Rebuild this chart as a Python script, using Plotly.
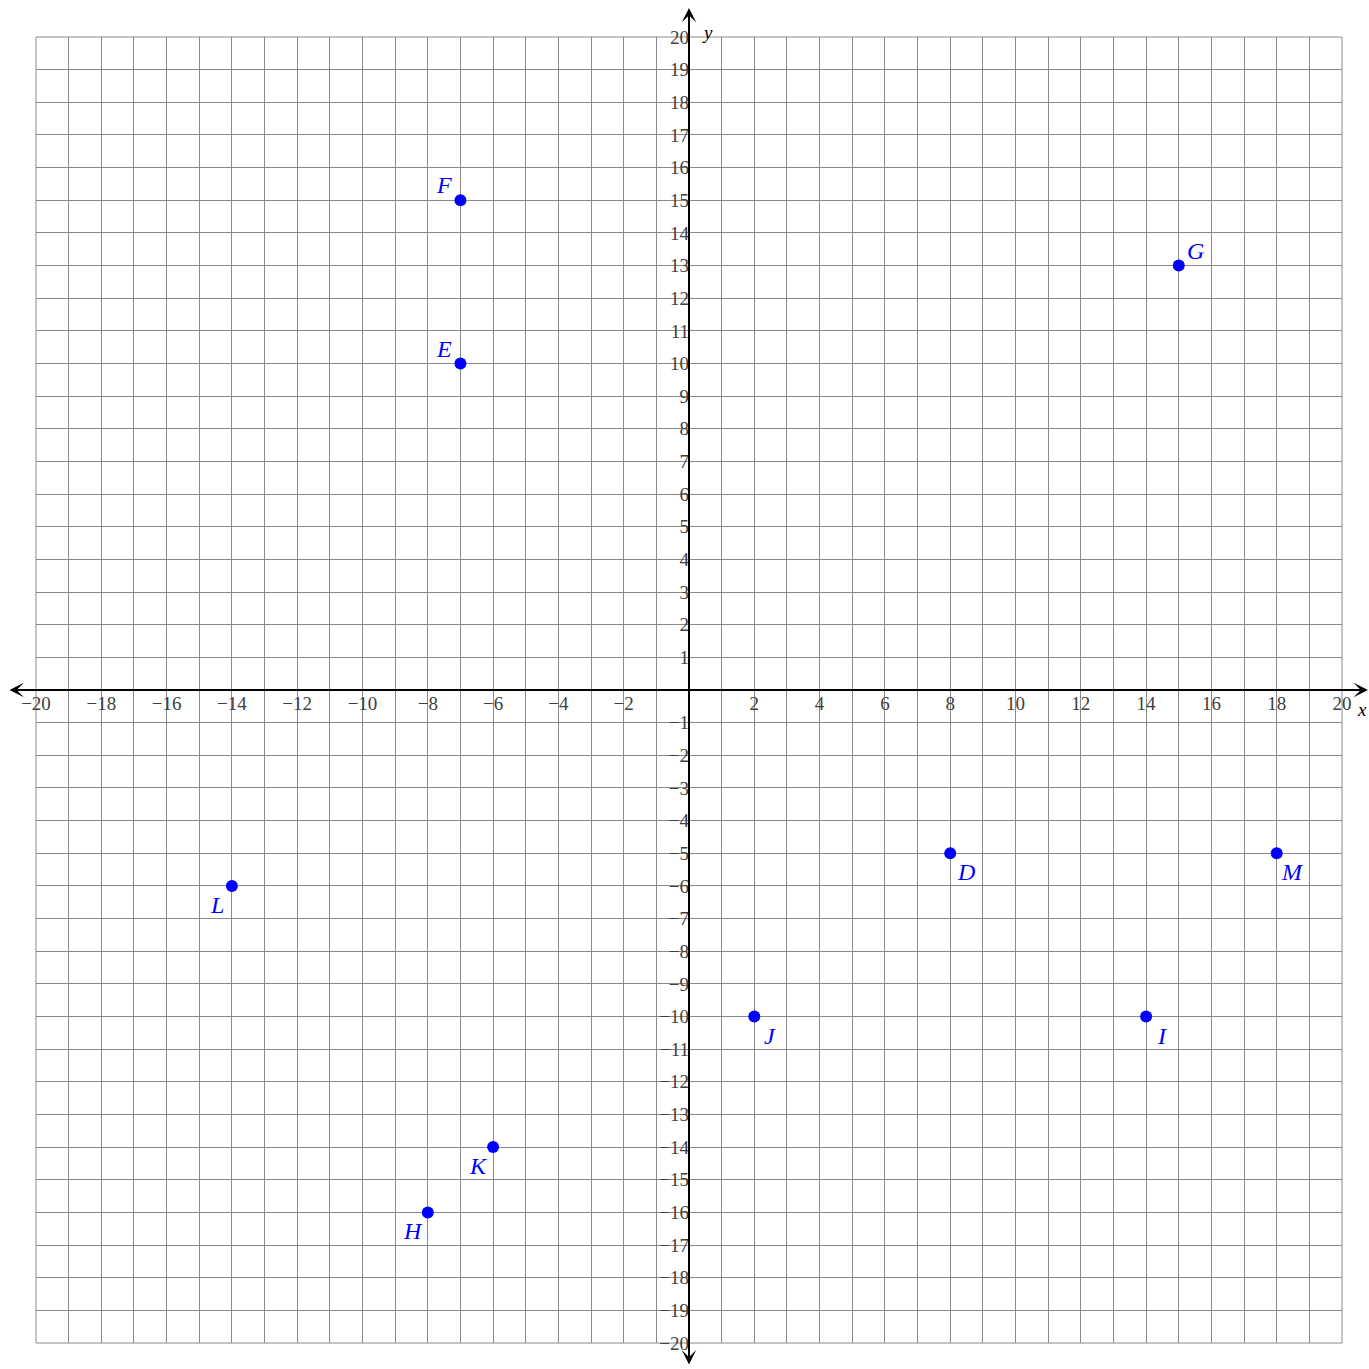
import plotly.graph_objects as go

# ---- data ----
point_labels = ["D", "E", "F", "G", "H", "I", "J", "K", "L", "M"]
point_x = [8, -7, -7, 15, -8, 14, 2, -6, -14, 18]
point_y = [-5, 10, 15, 13, -16, -10, -10, -14, -6, -5]

x_tick_vals = [-20, -18, -16, -14, -12, -10, -8, -6, -4, -2, 2, 4, 6, 8, 10, 12, 14, 16, 18, 20]
y_tick_vals = [v for v in range(-20, 21) if v != 0]

# ---- styling ----
label_side = {"D": "br", "E": "tl", "F": "tl", "G": "tr", "H": "bl", "I": "br",
              "J": "br", "K": "bl", "L": "bl", "M": "br"}
side_shift = {"tl": (-16, 15), "tr": (17, 15), "br": (16, -19), "bl": (-15, -19)}
GRID = "#8a8a8a"
TICKFONT = dict(family="Liberation Serif", size=19, color="#404040")
BLUE = "#0000ff"

fig = go.Figure()
fig.add_trace(go.Scatter(
    x=point_x, y=point_y, mode="markers",
    marker=dict(color=BLUE, size=12),
    cliponaxis=False, hoverinfo="skip", showlegend=False,
))
for lab, px, py in zip(point_labels, point_x, point_y):
    sx, sy = side_shift[label_side[lab]]
    fig.add_annotation(x=px, y=py, text=lab, showarrow=False, xanchor="center", yanchor="middle",
                       xshift=sx, yshift=sy,
                       font=dict(family="Liberation Serif", size=24, color=BLUE, style="italic"))

fig.update_layout(
    width=1369, height=1369,
    margin=dict(l=36, r=27, t=37, b=26),
    paper_bgcolor="white", plot_bgcolor="white",
    xaxis=dict(
        range=[-20, 20], tickmode="array", tickvals=x_tick_vals,
        showgrid=True, gridcolor=GRID, gridwidth=1,
        minor=dict(tickmode="linear", tick0=-20, dtick=1, showgrid=True, gridcolor=GRID, gridwidth=1),
        zeroline=False, showline=False, ticks="",
        anchor="free", position=0.5, tickfont=TICKFONT, fixedrange=True,
    ),
    yaxis=dict(
        range=[-20, 20], tickmode="array", tickvals=y_tick_vals,
        showgrid=True, gridcolor=GRID, gridwidth=1,
        zeroline=False, showline=False, ticks="", ticklabelstandoff=0,
        anchor="free", position=0.5, tickfont=TICKFONT, fixedrange=True,
    ),
)

# outer border of grid
fig.add_shape(type="rect", xref="paper", yref="paper", x0=0, y0=0, x1=1, y1=1,
              line=dict(color=GRID, width=1), layer="below")

# axes with arrows
fig.add_annotation(xref="paper", yref="y", x=1.0199, y=0, ax=-1360, ay=0, axref="pixel", ayref="pixel",
                   text="", showarrow=True, arrowhead=3, arrowside="end+start",
                   arrowwidth=2, arrowsize=1.2, arrowcolor="black")
fig.add_annotation(xref="x", yref="paper", x=0, y=1.0222, ax=0, ay=1358, axref="pixel", ayref="pixel",
                   text="", showarrow=True, arrowhead=3, arrowside="end+start",
                   arrowwidth=2, arrowsize=1.2, arrowcolor="black")

# axis names
fig.add_annotation(xref="paper", yref="y", x=1.0153, xshift=7, y=0, yshift=-19, text="x", showarrow=False,
                   font=dict(family="Liberation Serif", size=19, color="black", style="italic"))
fig.add_annotation(xref="x", yref="paper", x=0, xshift=18, y=1.013, text="y", showarrow=False,
                   font=dict(family="Liberation Serif", size=19, color="black", style="italic"))

fig.write_html("out.html", config={"displayModeBar": False},
               post_script="document.body.style.margin='0';document.body.style.overflow='hidden';")
